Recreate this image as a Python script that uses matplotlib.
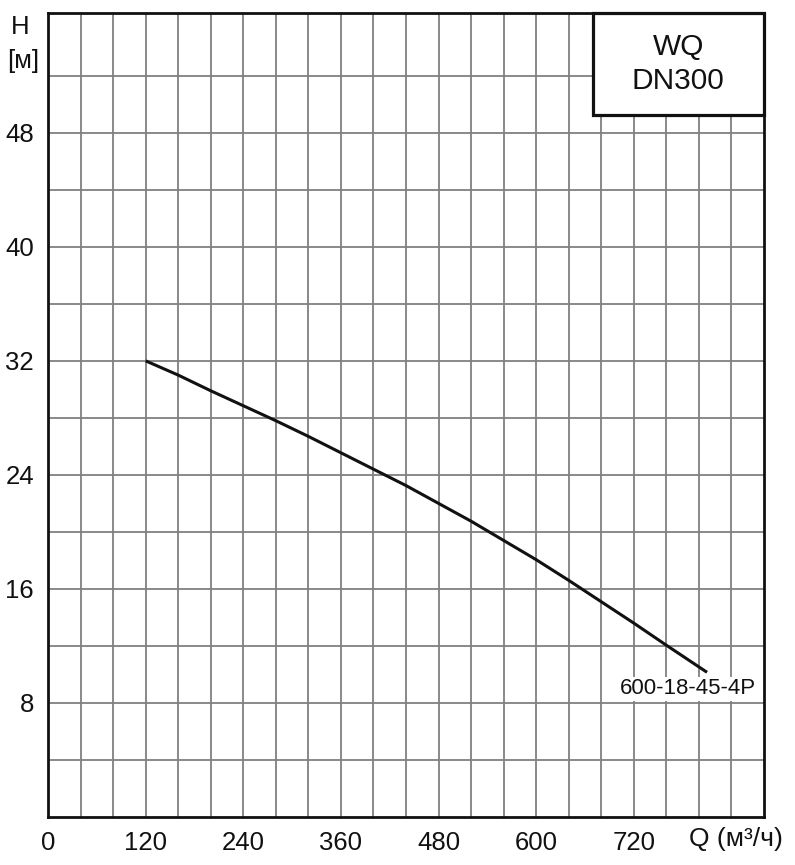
import matplotlib
matplotlib.use("Agg")
import matplotlib.pyplot as plt
from matplotlib.patches import Rectangle

plt.rcParams['font.family'] = ['Liberation Sans', 'DejaVu Sans']

# curve
q = [120, 160, 200, 240, 280, 320, 360, 400, 440, 480,
     520, 560, 600, 640, 680, 720, 760, 810]
h = [32.0, 31.0, 29.9, 28.85, 27.8, 26.7, 25.55, 24.4, 23.25, 22.0,
     20.75, 19.4, 18.05, 16.6, 15.1, 13.6, 12.05, 10.15]
curve_name = "600-18-45-4P"

x_ticks = [0, 120, 240, 360, 480, 600, 720]
y_ticks = [8, 16, 24, 32, 40, 48]

fig = plt.figure(figsize=(7.95, 8.65), dpi=100)
ax = fig.add_axes([48/795, 1 - 817/865, 716/795, 804/865])

ax.set_xlim(0, 880)
ax.set_ylim(0, 56.4)

# grid every 40 m3/h and every 4 m
for gx in range(40, 880, 40):
    ax.axvline(gx, color='#808080', lw=1.3, zorder=1)
for gy in range(4, 56, 4):
    ax.axhline(gy, color='#808080', lw=1.3, zorder=1)

ax.plot(q, h, color='#111111', lw=2.2, zorder=3, solid_capstyle='butt')
ax.text(787, 9.0, curve_name, fontsize=16, ha='center', va='center',
        color='#111111', zorder=4,
        bbox=dict(facecolor='white', edgecolor='none', pad=1.0))

ax.set_xticks(x_ticks)
ax.set_yticks(y_ticks)
ax.tick_params(length=0, labelsize=18.5, colors='#111111', pad=10)
for s in ax.spines.values():
    s.set_linewidth(2.0)
    s.set_color('#111111')
    s.set_zorder(6)

# model box
ax.add_patch(Rectangle((0.761, 0.873), 0.239, 0.127, transform=ax.transAxes,
                       facecolor='white', edgecolor='#111111', lw=2.3, zorder=5,
                       clip_on=False))
ax.text(0.88, 0.958, "WQ", transform=ax.transAxes, fontsize=21.5,
        ha='center', va='center', color='#111111', zorder=6)
ax.text(0.88, 0.915, "DN300", transform=ax.transAxes, fontsize=21.5,
        ha='center', va='center', color='#111111', zorder=6)

fig.text(20/795, 1 - 27/865, "H", fontsize=18.5, ha='center', va='center', color='#111111')
fig.text(23/795, 1 - 61/865, "[м]", fontsize=18.5, ha='center', va='center', color='#111111')
fig.text(736/795, 1 - 839/865, "Q (м³/ч)", fontsize=19, ha='center', va='center',
         color='#111111')

fig.savefig("out.png", dpi=100)
